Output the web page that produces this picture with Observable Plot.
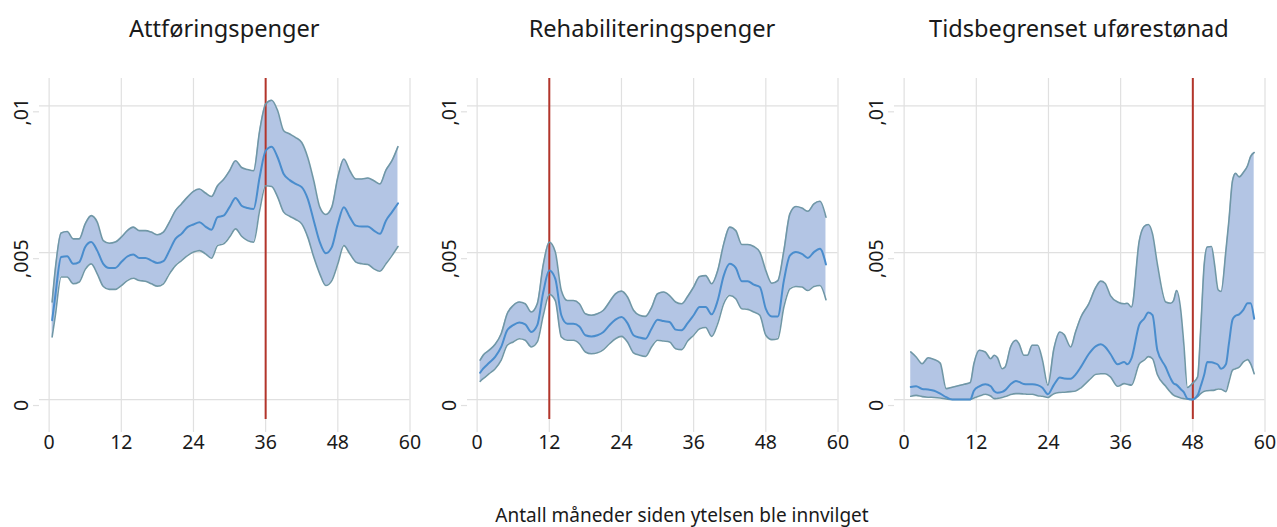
<!DOCTYPE html>
<html>
<head>
<meta charset="utf-8">
<script src="https://cdn.jsdelivr.net/npm/d3@7"></script>
<script src="https://cdn.jsdelivr.net/npm/@observablehq/plot@0.6"></script>
<style>
  body { margin: 0; background: #fff; }
  #fig { position: relative; width: 1277px; height: 527px; overflow: hidden;
         font-family: "Noto Sans", sans-serif; color: #1a1a1a; background: #fff; }
  .title { position: absolute; top: 14px; font-size: 23.6px; line-height: 28px; text-align: center; white-space: nowrap; }
  .panel { position: absolute; top: 50px; }
  #xlabel { position: absolute; top: 503px; font-size: 19px; line-height: 24px; text-align: center; white-space: nowrap; }
</style>
</head>
<body>
<div id="fig"></div>
<script>
// ---- Data (values in thousandths, i.e. 5 = ,005) ----
const panelTitles = ["Attføringspenger", "Rehabiliteringspenger", "Tidsbegrenset uførestønad"];
const xLabel = "Antall måneder siden ytelsen ble innvilget";
const xTicks = [0, 12, 24, 36, 48, 60];
const yTicks = [0, 5, 10];
const yTickLabels = ["0", ",005", ",01"];
const markerMonths = [36, 12, 48];

const p1Month = [0.5,1,2,3,4,5,6,7,8,9,10,11,12,13,14,15,16,17,18,19,20,21,22,23,24,25,26,27,28,29,30,31,32,33,34,35,36,37,38,39,40,41,42,43,44,45,46,47,48,49,50,51,52,53,54,55,56,57,58];
const p1Upper = [3.32,4.39,5.67,5.72,5.47,5.47,5.98,6.26,6.04,5.41,5.32,5.36,5.53,5.75,5.87,5.75,5.75,5.70,5.61,5.70,6.04,6.43,6.66,6.89,7.09,7.17,7.03,6.91,7.28,7.49,7.79,8.13,7.90,7.83,7.79,9.15,10.06,10.19,9.83,9.15,9.04,8.92,8.75,8.24,7.45,6.55,6.30,6.55,7.57,8.19,7.79,7.51,7.51,7.54,7.45,7.34,7.81,8.13,8.61];
const p1Mean  = [2.70,3.49,4.85,4.88,4.62,4.68,5.19,5.36,5.07,4.62,4.48,4.48,4.68,4.87,4.94,4.82,4.82,4.73,4.65,4.71,5.07,5.47,5.64,5.87,5.96,6.04,5.89,5.78,6.21,6.26,6.55,6.86,6.60,6.52,6.49,7.57,8.47,8.61,8.24,7.68,7.47,7.34,7.23,6.83,6.09,5.36,4.98,5.19,5.98,6.55,6.21,5.92,5.89,5.89,5.75,5.64,6.09,6.38,6.68];
const p1Lower = [2.13,2.81,4.17,4.17,3.94,4.00,4.43,4.62,4.28,3.85,3.75,3.75,3.88,4.05,4.13,4.05,4.03,3.94,3.86,3.94,4.28,4.56,4.73,4.90,5.02,5.07,4.96,4.81,5.24,5.30,5.53,5.81,5.56,5.41,5.36,6.43,7.28,7.25,6.89,6.38,6.24,6.13,5.98,5.53,4.85,4.28,3.88,4.05,4.62,5.24,4.96,4.68,4.62,4.60,4.45,4.37,4.62,4.90,5.21];

const p2Month = [0.5,1,2,3,4,5,6,7,8,9,10,11,12,13,14,15,16,17,18,19,20,21,22,23,24,25,26,27,28,29,30,31,32,33,34,35,36,37,38,39,40,41,42,43,44,45,46,47,48,49,50,51,52,53,54,55,56,57,58];
const p2Upper = [1.34,1.51,1.68,1.88,2.24,2.92,3.20,3.32,3.26,2.98,3.26,4.60,5.36,5.02,3.71,3.37,3.37,3.26,2.92,2.87,2.92,3.04,3.32,3.60,3.69,3.49,3.04,2.87,2.83,3.13,3.60,3.66,3.54,3.32,3.26,3.51,3.83,4.19,4.22,3.94,4.39,5.30,5.87,5.75,5.28,5.28,5.21,5.02,4.39,3.96,4.05,5.07,6.32,6.57,6.52,6.41,6.66,6.75,6.21];
const p2Mean  = [0.91,1.05,1.25,1.45,1.79,2.36,2.53,2.62,2.56,2.30,2.53,3.66,4.39,4.11,2.87,2.58,2.58,2.49,2.19,2.15,2.19,2.30,2.53,2.72,2.81,2.60,2.19,2.11,2.07,2.41,2.72,2.67,2.64,2.38,2.36,2.60,2.87,3.15,3.15,2.90,3.37,4.22,4.62,4.48,4.03,4.03,3.91,3.83,3.09,2.83,2.83,4.05,4.90,5.02,4.96,4.82,5.02,5.13,4.60];
const p2Lower = [0.62,0.71,0.88,1.05,1.34,1.85,1.96,2.07,2.02,1.79,1.96,2.87,3.58,3.37,2.13,2.02,2.02,1.90,1.62,1.56,1.59,1.70,1.90,2.07,2.15,1.96,1.59,1.51,1.47,1.79,2.02,1.99,1.96,1.73,1.70,1.99,2.19,2.41,2.45,2.15,2.58,3.26,3.54,3.43,3.09,3.07,2.98,2.87,2.19,2.04,2.07,3.15,3.77,3.85,3.83,3.71,3.85,3.88,3.40];

const p3Month = [1.1,2,3,4,5,6,7,8,9,10,11,11.6,12.5,13.5,14.4,15,15.5,16.3,16.8,17.7,18.6,19.1,19.9,20.5,21.3,22.2,23,23.9,24.9,25.9,26.6,27.7,28.5,29.4,30.7,31.9,32.7,33.4,34.3,35.5,36.6,37.1,37.8,39.1,39.9,40.6,41.3,42.1,43.5,44.3,44.8,45.3,46,46.5,47.1,47.9,48.8,49.3,49.9,50.4,51.1,51.6,52.2,52.7,53.5,54,54.6,55.1,55.7,56.4,57.1,57.6,58.2];
const p3Upper = [1.62,1.45,1.22,1.42,1.36,1.24,0.37,0.42,0.47,0.52,0.58,1.22,1.68,1.62,1.39,1.51,1.43,1.05,1.11,1.79,2.02,1.90,1.51,1.51,1.85,1.85,1.34,0.49,1.73,2.30,2.21,1.79,2.30,2.81,3.26,3.83,4.03,3.96,3.54,3.32,3.26,3.28,3.15,5.41,5.89,5.96,5.64,4.62,3.32,3.28,3.37,3.71,3.03,1.90,0.41,0.54,0.77,2.36,4.62,5.19,5.21,4.62,3.74,3.68,5.07,6.09,7.45,7.70,7.58,7.73,7.96,8.27,8.41];
const p3Mean  = [0.43,0.45,0.36,0.34,0.30,0.20,0.08,0.00,0.00,0.00,0.00,0.30,0.45,0.52,0.45,0.28,0.23,0.26,0.32,0.52,0.63,0.60,0.53,0.52,0.52,0.49,0.40,0.18,0.50,0.75,0.72,0.71,0.85,1.11,1.55,1.82,1.88,1.80,1.55,1.20,1.28,1.20,1.40,2.55,2.75,2.96,2.87,1.68,1.10,0.72,0.55,0.50,0.35,0.25,0.03,0.00,0.15,0.45,0.85,1.28,1.27,1.24,1.18,1.05,1.20,1.90,2.72,2.85,2.90,3.05,3.28,3.28,2.75];
const p3Lower = [0.11,0.14,0.10,0.08,0.07,0.05,0.02,0.00,0.00,0.00,0.00,0.05,0.12,0.18,0.12,0.03,0.04,0.07,0.10,0.17,0.20,0.20,0.19,0.18,0.18,0.13,0.11,0.07,0.20,0.24,0.25,0.27,0.29,0.40,0.65,0.86,0.88,0.88,0.77,0.45,0.54,0.52,0.49,1.22,1.34,1.46,1.39,0.85,0.45,0.25,0.15,0.10,0.05,0.03,0.01,0.00,0.10,0.20,0.28,0.30,0.31,0.32,0.36,0.35,0.27,0.60,1.00,1.05,1.10,1.28,1.36,1.22,0.88];

const series = [
  {month: p1Month, upper: p1Upper, mean: p1Mean, lower: p1Lower},
  {month: p2Month, upper: p2Upper, mean: p2Mean, lower: p2Lower},
  {month: p3Month, upper: p3Upper, mean: p3Mean, lower: p3Lower}
];

// ---- Style ----
const FONT = '"Noto Sans", sans-serif';
const gridColor = "#e0e0e0";
const bandFill = "#b3c5e4";
const bandEdge = "#7097a6";
const meanColor = "#4a8dcd";
const redColor = "#b3352b";
const panelLefts = [0, 427.7, 854.7];   // svg left positions
const mL = 39, mR = 12, mT = 28, mB = 40, frameW = 370.5, frameH = 341;
const CURVE = "monotone-x";

const fig = document.getElementById("fig");

series.forEach((s, k) => {
  const rows = s.month.map((m, i) => ({m, lo: s.lower[i], mid: s.mean[i], hi: s.upper[i]}));
  const chart = Plot.plot({
    width: mL + frameW + mR,
    height: mT + frameH + mB,
    marginLeft: mL, marginRight: mR, marginTop: mT, marginBottom: mB,
    x: {domain: [-1.6, 60], label: null},
    y: {domain: [-0.68, 10.93], label: null},
    style: {fontFamily: FONT, fontSize: "19.5px", color: "#1a1a1a", background: "transparent", overflow: "visible"},
    marks: [
      Plot.gridY(yTicks, {stroke: gridColor, strokeOpacity: 1, strokeWidth: 1.2}),
      Plot.gridX(xTicks, {stroke: gridColor, strokeOpacity: 1, strokeWidth: 1.2}),
      Plot.areaY(rows, {x: "m", y1: "lo", y2: "hi", fill: bandFill, curve: CURVE}),
      Plot.ruleX([markerMonths[k]], {stroke: redColor, strokeWidth: 2}),
      Plot.line(rows, {x: "m", y: "hi", stroke: bandEdge, strokeWidth: 1.6, curve: CURVE}),
      Plot.line(rows, {x: "m", y: "lo", stroke: bandEdge, strokeWidth: 1.6, curve: CURVE}),
      Plot.line(rows, {x: "m", y: "mid", stroke: meanColor, strokeWidth: 2, curve: CURVE}),
      Plot.axisX(xTicks, {label: null, tickSize: 13, tickPadding: 3, stroke: gridColor, strokeOpacity: 1, strokeWidth: 1.2, line: true, fontSize: 19.5, tickFormat: d => String(d)}),
      Plot.axisY(yTicks, {label: null, tickSize: 6, tickPadding: 6, tickRotate: -90, dy: 6, stroke: gridColor, strokeOpacity: 1, strokeWidth: 1.2, line: true, fontSize: 19.5,
                          tickFormat: d => yTickLabels[yTicks.indexOf(d)]})
    ]
  });
  chart.classList.add("panel");
  chart.style.left = panelLefts[k] + "px";
  fig.appendChild(chart);

  const t = document.createElement("div");
  t.className = "title";
  t.textContent = panelTitles[k];
  t.style.left = (panelLefts[k] + mL) + "px";
  t.style.width = frameW + "px";
  fig.appendChild(t);
});

const xl = document.createElement("div");
xl.id = "xlabel";
xl.textContent = xLabel;
xl.style.left = (682 - 300) + "px";
xl.style.width = "600px";
fig.appendChild(xl);
</script>
</body>
</html>
